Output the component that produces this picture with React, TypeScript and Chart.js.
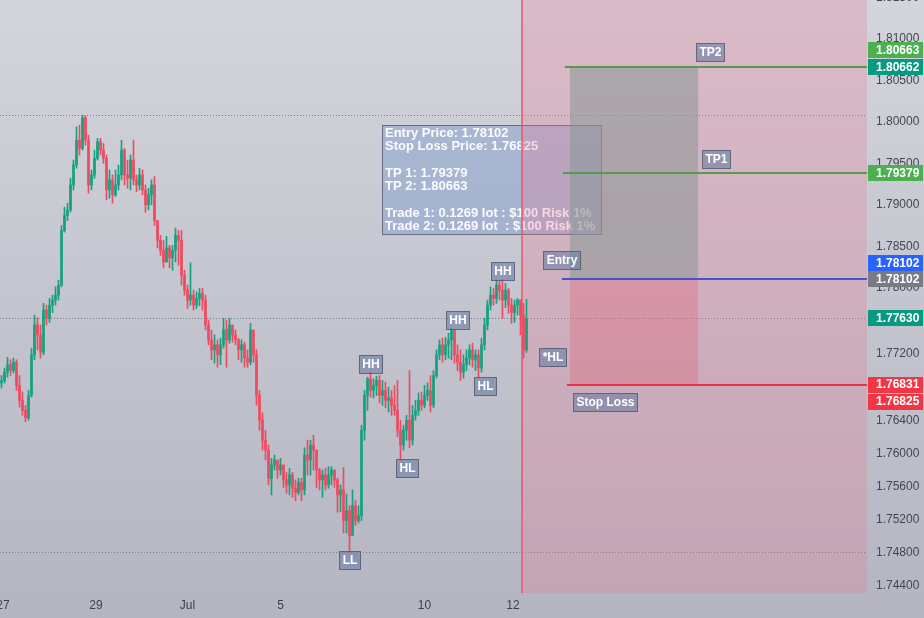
import React, { useEffect, useRef } from 'react';
import { Chart, registerables } from 'chart.js';

Chart.register(...registerables);

// ---------- data ----------
const firstOpen = 1.7685;
const closes = [
  1.7688, 1.7698, 1.7707, 1.7700, 1.7710, 1.7682, 1.7664, 1.7652, 1.7643, 1.7670,
  1.7719, 1.7755, 1.7743, 1.7722, 1.7773, 1.7763, 1.7779, 1.7785, 1.7791, 1.7803,
  1.7869, 1.7887, 1.7894, 1.7924, 1.7948, 1.7978, 1.7968, 1.8005, 1.7978, 1.7924,
  1.7936, 1.7956, 1.7976, 1.7966, 1.7956, 1.7918, 1.7930, 1.7912, 1.7924, 1.7936,
  1.7966, 1.7936, 1.7932, 1.7954, 1.7930, 1.7924, 1.7936, 1.7918, 1.7900, 1.7912,
  1.7924, 1.7881, 1.7857, 1.7845, 1.7831, 1.7848, 1.7836, 1.7845, 1.7863, 1.7857,
  1.7815, 1.7797, 1.7785, 1.7791, 1.7779, 1.7787, 1.7793, 1.7785, 1.7755, 1.7737,
  1.7725, 1.7731, 1.7719, 1.7731, 1.7749, 1.7737, 1.7755, 1.7743, 1.7737, 1.7725,
  1.7731, 1.7715, 1.7710, 1.7749, 1.7719, 1.7670, 1.7640, 1.7616, 1.7604, 1.7570,
  1.7586, 1.7592, 1.7580, 1.7586, 1.7568, 1.7562, 1.7574, 1.7558, 1.7553, 1.7565,
  1.7556, 1.7598, 1.7592, 1.7610, 1.7604, 1.7580, 1.7568, 1.7574, 1.7562, 1.7574,
  1.7580, 1.7568, 1.7550, 1.7556, 1.7519, 1.7531, 1.7501, 1.7537, 1.7519, 1.7525,
  1.7628, 1.7670, 1.7690, 1.7676, 1.7682, 1.7688, 1.7670, 1.7676, 1.7664, 1.7667,
  1.7658, 1.7652, 1.7628, 1.7610, 1.7628, 1.7640, 1.7616, 1.7646, 1.7652, 1.7664,
  1.7658, 1.7670, 1.7676, 1.7658, 1.7694, 1.7719, 1.7731, 1.7719, 1.7731, 1.7737,
  1.7749, 1.7719, 1.7710, 1.7698, 1.7707, 1.7715, 1.7725, 1.7713, 1.7719, 1.7703,
  1.7731, 1.7755, 1.7779, 1.7791, 1.7787, 1.7803, 1.7797, 1.7785, 1.7797, 1.7779,
  1.7770, 1.7779, 1.7785, 1.7767, 1.7725, 1.7763,
];
const highs = [
  1.7694, 1.7703, 1.7716, 1.7713, 1.7715, 1.7713, 1.7694, 1.7674, 1.7658, 1.7676,
  1.7727, 1.7767, 1.7764, 1.7755, 1.7781, 1.7779, 1.7787, 1.7791, 1.7801, 1.7809,
  1.7875, 1.7897, 1.7902, 1.7932, 1.7954, 1.7994, 1.7996, 1.8008, 1.8007, 1.7984,
  1.7942, 1.7966, 1.7980, 1.7980, 1.7974, 1.7960, 1.7942, 1.7936, 1.7942, 1.7948,
  1.7978, 1.7968, 1.7954, 1.7960, 1.7978, 1.7936, 1.7944, 1.7942, 1.7924, 1.7920,
  1.7930, 1.7934, 1.7881, 1.7863, 1.7857, 1.7862, 1.7851, 1.7851, 1.7872, 1.7869,
  1.7869, 1.7821, 1.7803, 1.7830, 1.7797, 1.7795, 1.7799, 1.7799, 1.7791, 1.7761,
  1.7749, 1.7743, 1.7737, 1.7739, 1.7763, 1.7761, 1.7763, 1.7754, 1.7749, 1.7739,
  1.7737, 1.7734, 1.7725, 1.7757, 1.7731, 1.7725, 1.7676, 1.7649, 1.7628, 1.7610,
  1.7594, 1.7598, 1.7592, 1.7594, 1.7586, 1.7577, 1.7582, 1.7577, 1.7568, 1.7570,
  1.7570, 1.7607, 1.7616, 1.7616, 1.7622, 1.7604, 1.7582, 1.7580, 1.7582, 1.7584,
  1.7584, 1.7580, 1.7570, 1.7562, 1.7583, 1.7551, 1.7537, 1.7556, 1.7543, 1.7537,
  1.7634, 1.7676, 1.7692, 1.7698, 1.7690, 1.7693, 1.7694, 1.7688, 1.7686, 1.7680,
  1.7676, 1.7682, 1.7688, 1.7640, 1.7634, 1.7646, 1.7700, 1.7658, 1.7664, 1.7673,
  1.7674, 1.7682, 1.7685, 1.7694, 1.7700, 1.7725, 1.7737, 1.7739, 1.7740, 1.7745,
  1.7751, 1.7746, 1.7731, 1.7725, 1.7719, 1.7725, 1.7731, 1.7733, 1.7725, 1.7725,
  1.7739, 1.7763, 1.7785, 1.7801, 1.7799, 1.7809, 1.7808, 1.7810, 1.7805, 1.7799,
  1.7787, 1.7785, 1.7787, 1.7785, 1.7781, 1.7786,
];
const lows = [
  1.7679, 1.7685, 1.7692, 1.7694, 1.7697, 1.7676, 1.7656, 1.7646, 1.7638, 1.7640,
  1.7668, 1.7713, 1.7725, 1.7715, 1.7719, 1.7755, 1.7758, 1.7770, 1.7779, 1.7785,
  1.7801, 1.7867, 1.7881, 1.7891, 1.7918, 1.7944, 1.7960, 1.7966, 1.7972, 1.7914,
  1.7918, 1.7932, 1.7954, 1.7960, 1.7950, 1.7906, 1.7908, 1.7902, 1.7910, 1.7918,
  1.7930, 1.7924, 1.7920, 1.7918, 1.7924, 1.7916, 1.7918, 1.7912, 1.7891, 1.7894,
  1.7900, 1.7875, 1.7848, 1.7839, 1.7824, 1.7831, 1.7824, 1.7821, 1.7831, 1.7827,
  1.7803, 1.7791, 1.7775, 1.7779, 1.7773, 1.7775, 1.7778, 1.7773, 1.7749, 1.7731,
  1.7713, 1.7709, 1.7704, 1.7707, 1.7727, 1.7704, 1.7733, 1.7734, 1.7731, 1.7713,
  1.7710, 1.7704, 1.7704, 1.7707, 1.7710, 1.7658, 1.7628, 1.7604, 1.7592, 1.7562,
  1.7550, 1.7580, 1.7570, 1.7574, 1.7559, 1.7552, 1.7550, 1.7547, 1.7543, 1.7550,
  1.7543, 1.7550, 1.7574, 1.7574, 1.7580, 1.7559, 1.7556, 1.7547, 1.7556, 1.7558,
  1.7562, 1.7559, 1.7529, 1.7530, 1.7504, 1.7504, 1.7481, 1.7507, 1.7513, 1.7516,
  1.7519, 1.7616, 1.7652, 1.7668, 1.7667, 1.7670, 1.7661, 1.7658, 1.7655, 1.7650,
  1.7646, 1.7646, 1.7620, 1.7592, 1.7604, 1.7616, 1.7607, 1.7610, 1.7640, 1.7646,
  1.7652, 1.7655, 1.7664, 1.7650, 1.7655, 1.7691, 1.7713, 1.7710, 1.7713, 1.7715,
  1.7713, 1.7709, 1.7700, 1.7688, 1.7691, 1.7700, 1.7707, 1.7704, 1.7700, 1.7691,
  1.7698, 1.7725, 1.7749, 1.7773, 1.7779, 1.7781, 1.7785, 1.7763, 1.7776, 1.7769,
  1.7757, 1.7758, 1.7767, 1.7743, 1.7715, 1.7722,
];

const dateTickIndex = [0.5, 31.5, 62, 93, 141, 170.5];
const dateTickLabels = ['27', '29', 'Jul', '5', '10', '12'];
const priceTicks = [1.815, 1.81, 1.805, 1.8, 1.795, 1.79, 1.785, 1.78, 1.776, 1.772, 1.768, 1.764, 1.76, 1.756, 1.752, 1.748, 1.744];

const entryPrice = 1.78102;
const stopPrice = 1.76825;
const tp1Price = 1.79379;
const tp2Price = 1.80663;
const lotSize = '0.1269';
const riskUsd = 100;
const riskPct = 1;

const swingIndex = [116, 123, 135, 152, 161, 167];
const swingText = ['LL', 'HH', 'HL', 'HH', 'HL', 'HH'];

const axisLabelPrices = [1.80663, 1.80662, 1.79379, 1.78102, 1.78102, 1.7763, 1.76831, 1.76825];
const axisLabelColors = ['#4caf50', '#089981', '#4caf50', '#2962ff', '#787b86', '#089981', '#f23645', '#f23645'];
const axisLabelSlots = [-1, 0, 0, -1, 0, 0, 0, 1];

// ---------- layout of annotations (in bar-index / price units) ----------
const signalIndex = 173.5;
const posBoxStart = 189.5;
const posBoxEnd = 232.2;
const lineStart = { tp2: 187.8, tp1: 187.2, entry: 186.8, sl: 188.5 };
const infoBox = { i0: 126.8, i1: 199.8, top: 1.79962, bottom: 1.78647 };

const UP = '#17a07e';
const DOWN = '#ee4a60';
const FONT = '"Liberation Sans", Arial, sans-serif';

const opens = closes.map((c, i) => (i === 0 ? firstOpen : closes[i - 1]));
const barColors = closes.map((c, i) => (c >= opens[i] ? UP : DOWN));

function tag(ctx: CanvasRenderingContext2D, text: string, cx: number, top: number) {
  ctx.font = `bold 12px ${FONT}`;
  const w = Math.round(ctx.measureText(text).width + 6);
  const h = 18;
  const x0 = Math.round(cx - w / 2) + 0.5;
  const y0 = Math.round(top) + 0.5;
  ctx.fillStyle = 'rgba(110,128,165,0.62)';
  ctx.fillRect(x0, y0, w, h);
  ctx.strokeStyle = 'rgba(70,80,105,0.75)';
  ctx.lineWidth = 1;
  ctx.strokeRect(x0, y0, w, h);
  ctx.fillStyle = '#ffffff';
  ctx.textAlign = 'center';
  ctx.textBaseline = 'middle';
  ctx.fillText(text, x0 + w / 2, y0 + h / 2 + 0.5);
}

const overlay = {
  id: 'overlay',
  beforeDraw(chart: any) {
    const { ctx, width, height } = chart;
    const g = ctx.createLinearGradient(0, 0, 0, height);
    g.addColorStop(0, '#d4d4dc');
    g.addColorStop(1, '#b4b5c1');
    ctx.save();
    ctx.fillStyle = g;
    ctx.fillRect(0, 0, width, height);
    ctx.restore();
  },
  beforeDatasetsDraw(chart: any) {
    const { ctx, chartArea: a, scales } = chart;
    const X = (v: number) => scales.x.getPixelForValue(v);
    const Y = (v: number) => scales.y.getPixelForValue(v);
    ctx.save();
    // dotted reference lines
    const refs = [Math.max(...highs), closes[closes.length - 1], Math.min(...lows)];
    ctx.setLineDash([1, 2]);
    ctx.strokeStyle = '#7b7d88';
    ctx.lineWidth = 1;
    refs.forEach((p) => {
      const y = Math.round(Y(p)) + 0.5;
      ctx.beginPath();
      ctx.moveTo(a.left, y);
      ctx.lineTo(a.right, y);
      ctx.stroke();
    });
    ctx.setLineDash([]);

    // info box
    const bx0 = Math.round(X(infoBox.i0)) + 0.5;
    const bx1 = Math.round(X(infoBox.i1)) + 0.5;
    const by0 = Math.round(Y(infoBox.top)) + 0.5;
    const by1 = Math.round(Y(infoBox.bottom)) + 0.5;
    ctx.fillStyle = 'rgba(120,150,205,0.42)';
    ctx.fillRect(bx0, by0, bx1 - bx0, by1 - by0);
    ctx.strokeStyle = 'rgba(80,88,110,0.8)';
    ctx.strokeRect(bx0, by0, bx1 - bx0, by1 - by0);
    const lines = [
      `Entry Price: ${entryPrice.toFixed(5)}`,
      `Stop Loss Price: ${stopPrice.toFixed(5)}`,
      '',
      `TP 1: ${tp1Price.toFixed(5)}`,
      `TP 2: ${tp2Price.toFixed(5)}`,
      '',
      `Trade 1: ${lotSize} lot : $${riskUsd} Risk ${riskPct}%`,
      `Trade 2: ${lotSize} lot  : $${riskUsd} Risk ${riskPct}%`,
    ];
    ctx.font = `bold 13px ${FONT}`;
    ctx.fillStyle = 'rgba(255,255,255,0.95)';
    ctx.textAlign = 'left';
    ctx.textBaseline = 'middle';
    lines.forEach((t, k) => {
      if (t) ctx.fillText(t, bx0 + 2.5, by0 + 8 + k * 13.3);
    });

    // signal background
    const sx = X(signalIndex);
    ctx.fillStyle = 'rgba(240,110,140,0.25)';
    ctx.fillRect(sx, a.top, a.right - sx, a.bottom - a.top);
    ctx.strokeStyle = 'rgba(232,85,105,0.75)';
    ctx.lineWidth = 2;
    ctx.beginPath();
    ctx.moveTo(sx, a.top);
    ctx.lineTo(sx, a.bottom);
    ctx.stroke();

    // position boxes
    const px0 = X(posBoxStart);
    const px1 = X(posBoxEnd);
    ctx.fillStyle = 'rgba(130,150,145,0.5)';
    ctx.fillRect(px0, Y(tp2Price), px1 - px0, Y(entryPrice) - Y(tp2Price));
    ctx.fillStyle = 'rgba(230,90,115,0.3)';
    ctx.fillRect(px0, Y(entryPrice), px1 - px0, Y(stopPrice) - Y(entryPrice));
    ctx.restore();
  },
  afterDatasetsDraw(chart: any) {
    const { ctx, chartArea: a, scales } = chart;
    const X = (v: number) => scales.x.getPixelForValue(v);
    const Y = (v: number) => scales.y.getPixelForValue(v);
    ctx.save();
    const hl = [
      { p: tp2Price, s: lineStart.tp2, c: '#589a48' },
      { p: tp1Price, s: lineStart.tp1, c: '#589a48' },
      { p: entryPrice, s: lineStart.entry, c: '#4a4fd8' },
      { p: stopPrice, s: lineStart.sl, c: '#ea3346' },
    ];
    ctx.lineWidth = 2;
    hl.forEach((l) => {
      const y = Math.round(Y(l.p));
      ctx.strokeStyle = l.c;
      ctx.beginPath();
      ctx.moveTo(X(l.s), y);
      ctx.lineTo(a.right, y);
      ctx.stroke();
    });

    // swing labels
    swingIndex.forEach((i, k) => {
      const text = swingText[k];
      const win: number[] = [];
      for (let j = Math.max(0, i - 3); j <= Math.min(closes.length - 1, i + 3); j++) win.push(j);
      if (text === 'HH') {
        const p = Math.max(...win.map((j) => highs[j]));
        tag(ctx, text, X(i), Y(p) + 1 - 18);
      } else {
        const p = Math.min(...win.map((j) => lows[j]));
        tag(ctx, text, X(i), Y(p) - 1);
      }
    });
    // pending swing
    const lastLow = Math.min(...lows.slice(-3));
    tag(ctx, '*HL', X(183.7), Y(lastLow) - 10);

    // position labels
    tag(ctx, 'TP2', X(236), Y(tp2Price) - 6 - 18);
    tag(ctx, 'TP1', X(238.2), Y(tp1Price) - 5 - 18);
    tag(ctx, 'Entry', X(186.7), Y(entryPrice) - 10 - 18);
    tag(ctx, 'Stop Loss', X(201), Y(stopPrice) + 8);
    ctx.restore();
  },
  afterDraw(chart: any) {
    const { ctx, scales } = chart;
    const ya = scales.y;
    ctx.save();
    ctx.font = `bold 12px ${FONT}`;
    ctx.textAlign = 'left';
    ctx.textBaseline = 'middle';
    axisLabelPrices.forEach((p, k) => {
      const cy = ya.getPixelForValue(p) + axisLabelSlots[k] * 16.5;
      ctx.fillStyle = axisLabelColors[k];
      ctx.fillRect(ya.left + 1, Math.round(cy - 8), 55, 16);
      ctx.fillStyle = '#ffffff';
      ctx.fillText(p.toFixed(5), ya.left + 9, cy + 0.5);
    });
    ctx.restore();
  },
};

export default function App() {
  const ref = useRef<HTMLCanvasElement | null>(null);
  useEffect(() => {
    document.body.style.margin = '0';
    const canvas = ref.current;
    if (!canvas) return;
    const wick = closes.map((c, i) => ({ x: i, y: [lows[i], highs[i]] }));
    const body = closes.map((c, i) => ({ x: i, y: [opens[i], c] }));
    const chart = new Chart(canvas, {
      type: 'bar',
      data: {
        datasets: [
          {
            data: body as any,
            backgroundColor: barColors,
            barThickness: 2,
            minBarLength: 1,
            grouped: false,
            borderWidth: 0,
            order: 0,
          } as any,
          {
            data: wick as any,
            backgroundColor: barColors,
            barThickness: 1,
            grouped: false,
            borderWidth: 0,
            order: 1,
          } as any,
        ],
      },
      options: {
        responsive: false,
        animation: false,
        devicePixelRatio: 1,
        layout: { padding: 0 },
        plugins: {
          legend: { display: false },
          tooltip: { enabled: false },
          title: { display: false },
        },
        scales: {
          x: {
            type: 'linear',
            min: -0.5,
            max: 288.5,
            offset: false,
            grid: { display: false, drawTicks: false },
            border: { display: false },
            ticks: {
              autoSkip: false,
              maxRotation: 0,
              padding: 5,
              color: '#3f414b',
              font: { family: FONT, size: 12 },
              callback: (v: any, idx: number) => dateTickLabels[idx] ?? '',
            },
            afterBuildTicks: (s: any) => {
              s.ticks = dateTickIndex.map((v) => ({ value: v }));
            },
            afterFit: (s: any) => {
              s.height = 25;
              s.paddingLeft = 0;
              s.paddingRight = 0;
            },
          },
          y: {
            type: 'linear',
            position: 'right',
            min: 1.74316,
            max: 1.81471,
            grid: { display: false, drawTicks: false },
            border: { display: false },
            ticks: {
              autoSkip: false,
              padding: 9,
              color: '#444752',
              font: { family: FONT, size: 12 },
              callback: (v: any) => Number(v).toFixed(5),
            },
            afterBuildTicks: (s: any) => {
              s.ticks = priceTicks.map((v) => ({ value: v }));
            },
            afterFit: (s: any) => {
              s.width = 57;
              s.paddingTop = 0;
              s.paddingBottom = 0;
            },
          },
        },
      } as any,
      plugins: [overlay as any],
    });
    return () => chart.destroy();
  }, []);
  return (
    <div style={{ width: 924, height: 618, position: 'absolute', left: 0, top: 0 }}>
      <canvas ref={ref} width={924} height={618} style={{ display: 'block' }} />
    </div>
  );
}
